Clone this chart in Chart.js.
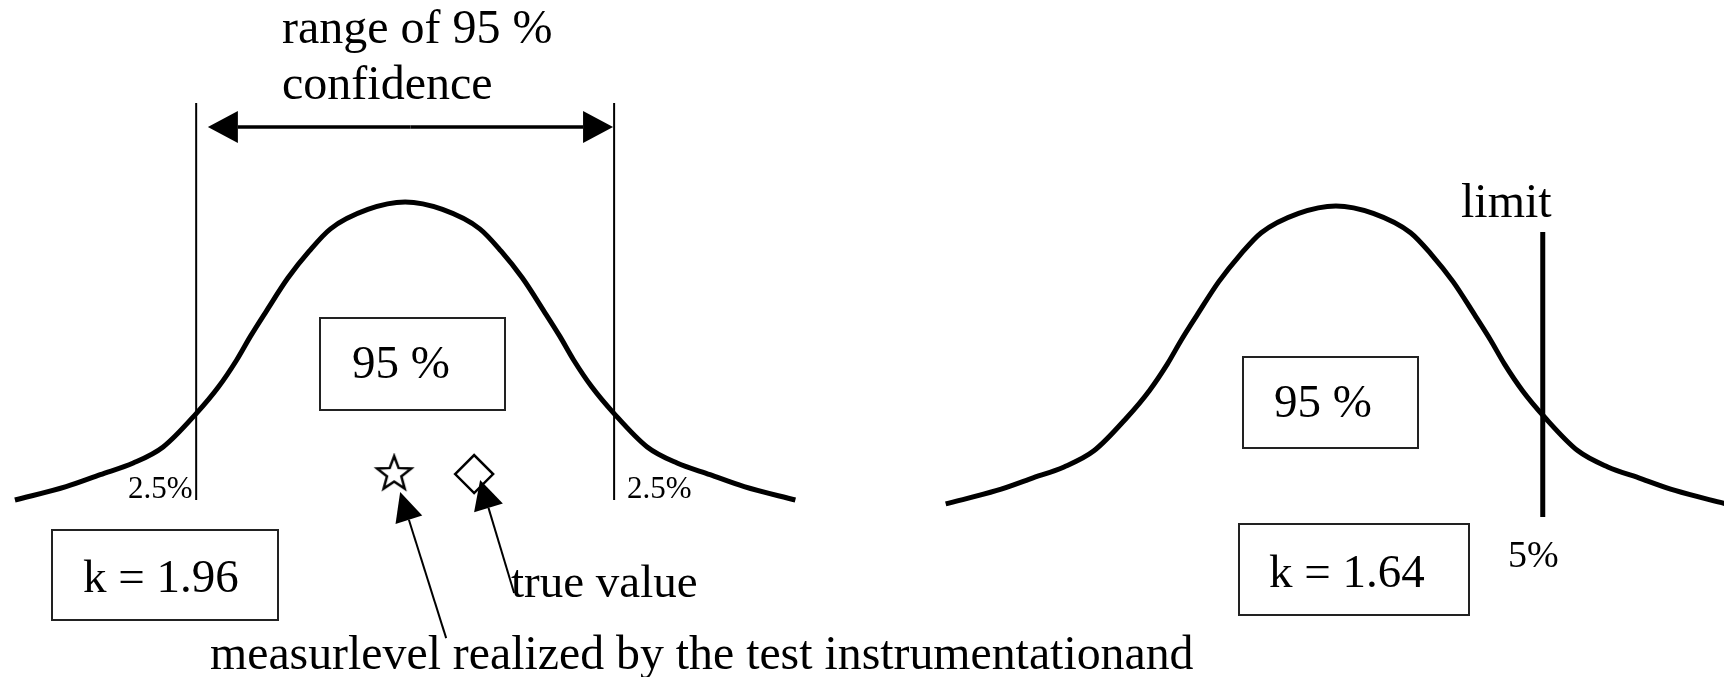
<!DOCTYPE html>
<html>
<head>
<meta charset="utf-8">
<title>confidence range</title>
<script src="https://cdn.jsdelivr.net/npm/chart.js@4"></script>
<style>
  html, body { margin: 0; padding: 0; background: #fff; }
  canvas { display: block; }
</style>
</head>
<body>
<canvas id="bell" width="1724" height="677"></canvas>
<script>
// bell shape: x in sigma units, height relative to the peak
const curveX = [-3.66, -3.18, -2.86, -2.55, -2.27, -1.96, -1.75, -1.58, -1.45, -1.3, -1.1, -0.9, -0.7, -0.35, 0,
                0.35, 0.7, 0.9, 1.1, 1.3, 1.45, 1.58, 1.75, 1.96, 2.27, 2.55, 2.86, 3.18, 3.66];
const curveY = [0, 0.045, 0.085, 0.124, 0.178, 0.29, 0.38, 0.47, 0.55, 0.635, 0.745, 0.835, 0.91, 0.975, 1.0,
                0.975, 0.91, 0.835, 0.745, 0.635, 0.55, 0.47, 0.38, 0.29, 0.178, 0.124, 0.085, 0.045, 0];

// centres of the two curves, and the small drop of the right one
const centres = [0, 8.73];
const rightBase = -0.013;

// coverage factors / limit
const kLeft = 1.96;
const limitAt = 1.94;      // where the limit line sits on the right curve
const lineTop = 1.332;     // top of the two k lines
const arrowY = 1.252;      // double arrow height

// measured value (star) and true value (diamond)
const measured = { x: -0.103, y: 0.087 };
const trueValue = { x: 0.647, y: 0.087 };

// texts
const boxTexts = ['95 %', 'k = 1.96', '95 %', 'k = 1.64'];
const tailTexts = ['2.5%', '2.5%'];

const serif = '"Liberation Serif", "Times New Roman", serif';

function curvePoints(c, base) {
  return curveX.map((x, i) => ({ x: x + c, y: curveY[i] + base }));
}

function makeStar(r) {
  const s = Math.ceil(r * 2 + 6);
  const c = document.createElement('canvas');
  c.width = s; c.height = s;
  const g = c.getContext('2d');
  g.translate(s / 2, s / 2);
  g.beginPath();
  for (let i = 0; i < 10; i++) {
    const a = -Math.PI / 2 + i * Math.PI / 5;
    const rr = i % 2 ? r * 0.42 : r;
    g.lineTo(Math.cos(a) * rr, Math.sin(a) * rr);
  }
  g.closePath();
  g.fillStyle = '#fff';
  g.fill();
  g.lineWidth = 2.5;
  g.strokeStyle = '#000';
  g.stroke();
  return c;
}

function arrow(ctx, x1, y1, x2, y2, len, half, width) {
  const a = Math.atan2(y2 - y1, x2 - x1);
  const bx = x2 - Math.cos(a) * len, by = y2 - Math.sin(a) * len;
  ctx.beginPath();
  ctx.moveTo(x1, y1);
  ctx.lineTo(bx, by);
  ctx.lineWidth = width;
  ctx.strokeStyle = '#000';
  ctx.stroke();
  ctx.beginPath();
  ctx.moveTo(x2, y2);
  ctx.lineTo(bx - Math.sin(a) * half, by + Math.cos(a) * half);
  ctx.lineTo(bx + Math.sin(a) * half, by - Math.cos(a) * half);
  ctx.closePath();
  ctx.fillStyle = '#000';
  ctx.fill();
}

function text(ctx, s, x, y, size, weight) {
  ctx.font = (weight || 'normal') + ' ' + size + 'px ' + serif;
  ctx.fillStyle = '#000';
  ctx.textAlign = 'left';
  ctx.textBaseline = 'alphabetic';
  ctx.fillText(s, x, y);
}

const whiteBg = {
  id: 'whiteBg',
  beforeDraw(chart) {
    const ctx = chart.ctx;
    ctx.save();
    ctx.fillStyle = '#fff';
    ctx.fillRect(0, 0, chart.width, chart.height);
    ctx.restore();
  }
};

// boxes: x, y, w, h, text x, text baseline
const boxes = [
  [320, 318, 185, 92, 352, 378],
  [52, 530, 226, 90, 83, 592],
  [1243, 357, 175, 91, 1274, 417],
  [1239, 524, 230, 91, 1269, 587]
];

const notes = {
  id: 'notes',
  afterDraw(chart) {
    const ctx = chart.ctx;
    const xs = chart.scales.x, ys = chart.scales.y;
    ctx.save();

    // double arrow between the k lines
    const ay = ys.getPixelForValue(arrowY);
    const l = xs.getPixelForValue(-kLeft + 0.11), r = xs.getPixelForValue(kLeft - 0.01);
    const mid = (l + r) / 2;
    arrow(ctx, mid, ay, l, ay, 30, 16, 3.5);
    arrow(ctx, mid, ay, r, ay, 30, 16, 3.5);

    text(ctx, 'range of 95 %', 282, 43, 48);
    text(ctx, 'confidence', 282, 99, 48);

    boxes.forEach((b, i) => {
      ctx.lineWidth = 2;
      ctx.strokeStyle = '#222';
      ctx.fillStyle = '#fff';
      ctx.fillRect(b[0], b[1], b[2], b[3]);
      ctx.strokeRect(b[0], b[1], b[2], b[3]);
      text(ctx, boxTexts[i], b[4], b[5], 47);
    });

    text(ctx, tailTexts[0], 128, 498, 31);
    text(ctx, tailTexts[1], 627, 498, 31);
    text(ctx, 'true value', 511, 597, 47);
    text(ctx, 'measurlevel realized by the test instrumentationand', 210, 669, 47.8);
    text(ctx, 'limit', 1461, 217, 48);
    text(ctx, '5%', 1508, 567, 38);

    // arrows to the star and the diamond
    const sx = xs.getPixelForValue(measured.x), sy = ys.getPixelForValue(measured.y);
    arrow(ctx, sx + 52, sy + 164, sx + 6, sy + 18, 29, 14, 2);
    const dx = xs.getPixelForValue(trueValue.x), dy = ys.getPixelForValue(trueValue.y);
    arrow(ctx, dx + 40, dy + 119, dx + 6, dy + 6, 29, 15, 2);

    ctx.restore();
  }
};

const lineStyle = { showLine: true, pointRadius: 0, borderColor: '#000', fill: false };

new Chart(document.getElementById('bell'), {
  type: 'scatter',
  data: {
    datasets: [
      {
        data: [measured],
        pointStyle: makeStar(18),
        pointRadius: 18
      },
      {
        data: [trueValue],
        pointStyle: 'rectRot',
        pointRadius: 19,
        backgroundColor: '#fff',
        borderColor: '#000',
        borderWidth: 2.5
      },
      { ...lineStyle, data: curvePoints(centres[0], 0), borderWidth: 5, cubicInterpolationMode: 'monotone' },
      { ...lineStyle, data: curvePoints(centres[1], rightBase), borderWidth: 5, cubicInterpolationMode: 'monotone' },
      { ...lineStyle, data: [{ x: -kLeft, y: 0 }, { x: -kLeft, y: lineTop }], borderWidth: 2 },
      { ...lineStyle, data: [{ x: kLeft, y: 0 }, { x: kLeft, y: lineTop }], borderWidth: 2 },
      { ...lineStyle, data: [{ x: centres[1] + limitAt, y: -0.057 }, { x: centres[1] + limitAt, y: 0.899 }], borderWidth: 5 }
    ]
  },
  options: {
    responsive: false,
    animation: false,
    devicePixelRatio: 1,
    layout: { padding: 0, autoPadding: false },
    plugins: { legend: { display: false }, tooltip: { enabled: false } },
    scales: {
      x: { type: 'linear', display: false, min: -3.8, max: 12.37 },
      y: { type: 'linear', display: false, min: -0.594, max: 1.678 }
    }
  },
  plugins: [whiteBg, notes]
});
</script>
</body>
</html>
